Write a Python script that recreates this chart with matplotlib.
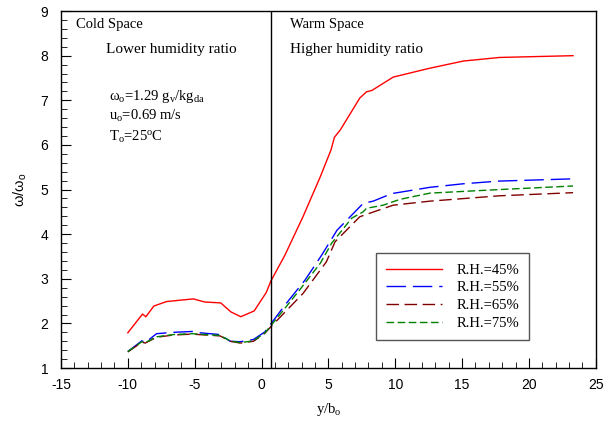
import matplotlib
matplotlib.use("Agg")
import matplotlib.pyplot as plt
from matplotlib.ticker import MultipleLocator

plt.rcParams['mathtext.default'] = 'regular'
plt.rcParams['axes.unicode_minus'] = False

# R.H.=45%
x45 = [-10, -8.9, -8.65, -8.05, -7.1, -5.1, -4.25, -3.05, -2.3, -1.55, -0.55, 0.35, 0.7,
       1.75, 3.1, 4.4, 5.2, 5.45, 5.9, 7.35, 7.85, 8.25, 9.85, 12.6, 15.1, 17.8, 23.3]
y45 = [1.79, 2.21, 2.15, 2.39, 2.49, 2.55, 2.48, 2.46, 2.26, 2.15, 2.28, 2.69, 2.95,
       3.53, 4.39, 5.29, 5.89, 6.17, 6.34, 7.05, 7.19, 7.22, 7.52, 7.72, 7.88, 7.96, 8.0]

# R.H.=55%
x55 = [-10, -8.95, -8.7, -7.85, -6.6, -5.2, -4.6, -3.1, -2.35, -1.6, -0.6, 0.25, 1.75,
       3.25, 4.5, 5.65, 7.05, 7.6, 8.35, 9.75, 12.6, 15.1, 17.8, 23.3]
y55 = [1.37, 1.61, 1.57, 1.77, 1.80, 1.82, 1.79, 1.75, 1.60, 1.59, 1.64, 1.81, 2.41,
       2.97, 3.53, 4.09, 4.52, 4.69, 4.74, 4.91, 5.05, 5.13, 5.19, 5.24]

# R.H.=65%
x65 = [-10, -8.95, -8.7, -7.85, -6.6, -5.2, -3.1, -2.35, -1.6, -0.6, 0.25, 0.65, 3.1,
       4.85, 5.5, 7.35, 8.1, 9.85, 12.6, 17.8, 23.3]
y65 = [1.36, 1.58, 1.56, 1.69, 1.74, 1.76, 1.72, 1.60, 1.56, 1.60, 1.78, 1.91, 2.67,
       3.38, 3.83, 4.39, 4.47, 4.65, 4.74, 4.86, 4.93]

# R.H.=75%
x75 = [-10, -8.95, -8.7, -7.85, -6.6, -5.2, -3.1, -2.35, -1.6, -0.6, 0.25, 0.65, 2.85,
       4.4, 5.25, 6.75, 7.6, 7.85, 9.1, 10.35, 12.6, 17.8, 23.3]
y75 = [1.37, 1.59, 1.57, 1.70, 1.75, 1.77, 1.73, 1.61, 1.57, 1.61, 1.79, 1.93, 2.75,
       3.35, 3.80, 4.36, 4.50, 4.58, 4.65, 4.78, 4.92, 5.00, 5.08]

x_wall = 0.68

serif = 'Liberation Serif'
sans = 'Liberation Sans'

fig = plt.figure(figsize=(6.14, 4.25), dpi=100)
ax = fig.add_axes([0.0993, 0.134, 0.871, 0.84])

ax.plot(x45, y45, color='#ff0000', lw=1.0, label='R.H.=45%')
ax.plot(x55, y55, color='#0000ff', lw=1.0, dashes=(14, 5), label='R.H.=55%')
ax.plot(x65, y65, color='#800000', lw=1.0, dashes=(9, 4), label='R.H.=65%')
ax.plot(x75, y75, color='#008000', lw=1.0, dashes=(5.5, 2.5), label='R.H.=75%')
ax.axvline(x_wall, color='black', lw=1.0)

ax.set_xlim(-15, 25)
ax.set_ylim(1, 9)
ax.xaxis.set_major_locator(MultipleLocator(5))
ax.xaxis.set_minor_locator(MultipleLocator(1))
ax.yaxis.set_major_locator(MultipleLocator(1))
ax.yaxis.set_minor_locator(MultipleLocator(0.2))
ax.tick_params(which='both', direction='in', top=False, right=False, labelsize=10)
ax.tick_params(axis='x', pad=7)
ax.tick_params(axis='y', pad=9)
ax.tick_params(which='major', length=7)
ax.tick_params(which='minor', length=4)
for lab in ax.get_xticklabels() + ax.get_yticklabels():
    lab.set_family(sans)
for s in ax.spines.values():
    s.set_linewidth(1.0)

ax.set_xlabel('y/b$_o$', family=serif, fontsize=10.5, labelpad=7)
ax.set_ylabel('ω/ω$_o$', family=sans, fontsize=10.5, labelpad=8)

ax.text(-13.9, 8.62, 'Cold Space', family=serif, fontsize=10.5)
ax.text(-11.6, 8.07, 'Lower humidity ratio', family=serif, fontsize=11)
ax.text(2.1, 8.62, 'Warm Space', family=serif, fontsize=10.5)
ax.text(2.1, 8.07, 'Higher humidity ratio', family=serif, fontsize=11)
ax.text(-11.4, 7.0, 'ω$_o$=1.29 g$_v$/kg$_{da}$', family=serif, fontsize=10.5)
ax.text(-11.4, 6.55, 'u$_o$=0.69 m/s', family=serif, fontsize=10.5)
ax.text(-11.4, 6.08, 'T$_o$=25$^o$C', family=serif, fontsize=10.5)

leg = ax.legend(loc='upper left', bbox_to_anchor=(0.589, 0.321),
                prop={'family': serif, 'size': 10.5}, fancybox=False, edgecolor='#555555',
                framealpha=1, handlelength=3.8, handletextpad=1.0, borderpad=0.7,
                labelspacing=0.3, borderaxespad=0)
leg.get_frame().set_linewidth(1.0)

fig.savefig('out.png', dpi=100)
